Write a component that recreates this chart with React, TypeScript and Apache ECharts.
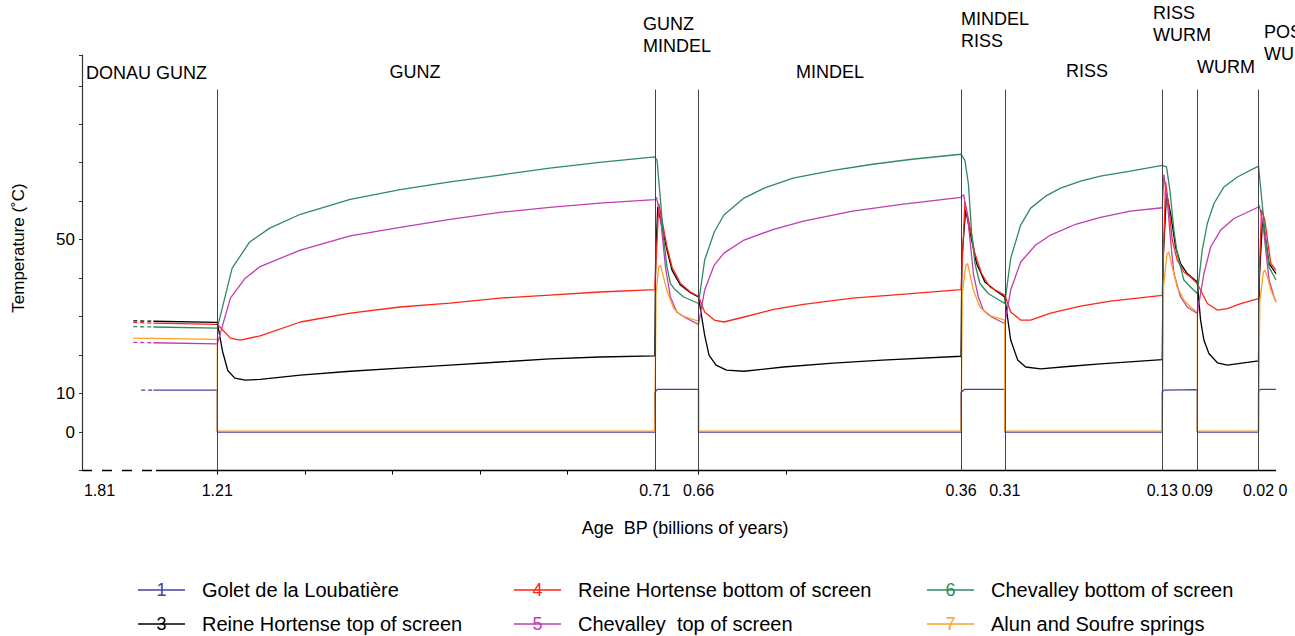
import React, { useEffect, useRef } from 'react';
import * as echarts from 'echarts';

const FONT = "'Liberation Sans', Arial, Helvetica, sans-serif";

// ---- axes ----
const X_LABEL_VALUES = [1.81, 1.21, 0.71, 0.66, 0.36, 0.31, 0.13, 0.09, 0.02, 0];
const X_TICK_VALUES = [1.21, 1.11, 1.01, 0.91, 0.81, 0.66, 0.56];
const BOUNDARIES = [1.21, 0.71, 0.66, 0.36, 0.31, 0.13, 0.09, 0.02];
const Y_LABEL_VALUES = [0, 10, 50];
const X_MIN = 0;
const X_MAX = 1.83;
const X_BREAK = { start: 1.31, end: 1.78, gap: 0.0046 };
const Y_MIN = -10;
const Y_MAX = 98;
const BOUNDARY_TOP = 89;
const AXIS_DASH_END = 1.28;

// ---- series (age in billions of years, temperature in °C) ----
const BLUE_PRE = [[1.297, 10.9], [1.283, 10.9]];
const BLUE = [
  [1.283, 10.9], [1.21, 10.9], [1.21, 0], [0.71, 0], [0.71, 10.3], [0.707, 11.1], [0.66, 11.1], [0.66, 0],
  [0.36, 0], [0.36, 10.3], [0.356, 11.1], [0.31, 11.1], [0.31, 0], [0.13, 0], [0.13, 10.4], [0.128, 10.9],
  [0.09, 11.0], [0.09, 0], [0.02, 0], [0.02, 10.4], [0.018, 11.1], [0, 11.1],
];

const BLACK_PRE = [[1.306, 28.9], [1.283, 28.8]];
const BLACK = [
  [1.283, 28.8], [1.21, 28.5], [1.204, 21], [1.198, 16], [1.19, 14], [1.178, 13.5], [1.161, 13.7], [1.115, 14.8],
  [1.058, 15.8], [1.001, 16.6], [0.944, 17.4], [0.887, 18.2], [0.83, 19], [0.773, 19.5], [0.71, 19.8],
  [0.709, 45], [0.7066, 58.5], [0.7017, 53.3], [0.696, 47.3], [0.6903, 42.1], [0.6806, 38.2], [0.6692, 36.2], [0.66, 35.1],
  [0.653, 25.2], [0.648, 20], [0.64, 17.4], [0.628, 16.1], [0.608, 15.8], [0.563, 16.9], [0.506, 17.9], [0.45, 18.7], [0.36, 19.7],
  [0.359, 45], [0.3547, 57.7], [0.3478, 49.9], [0.3422, 43.8], [0.3327, 39], [0.3214, 36.9], [0.31, 35.1],
  [0.3032, 23.9], [0.2952, 18.7], [0.2861, 16.9], [0.269, 16.4], [0.2348, 17.1], [0.2007, 17.7], [0.13, 18.8],
  [0.129, 45], [0.1251, 62], [0.1205, 56.8], [0.1148, 48.1], [0.1091, 43.8], [0.1014, 41.2], [0.09, 39],
  [0.0862, 29.1], [0.0824, 23.9], [0.0767, 20.4], [0.067, 18], [0.0556, 17.4], [0.02, 18.5],
  [0.019, 40], [0.0154, 55.1], [0.0117, 49.9], [0.0079, 43.8], [0, 41.2],
];

const RED_PRE = [[1.306, 28.5], [1.283, 28.3]];
const RED = [
  [1.283, 28.3], [1.21, 28.0], [1.195, 24.4], [1.184, 23.9], [1.161, 25], [1.115, 28.6], [1.058, 30.9], [1.001, 32.5],
  [0.944, 33.5], [0.887, 34.8], [0.83, 35.6], [0.773, 36.4], [0.71, 37.0],
  [0.7054, 59.4], [0.7017, 55], [0.696, 48.1], [0.6903, 42.9], [0.6806, 38.6], [0.6692, 36.4], [0.66, 35.3],
  [0.653, 31.2], [0.642, 29.1], [0.631, 28.6], [0.608, 29.9], [0.574, 31.9], [0.54, 33.2], [0.484, 34.8], [0.428, 35.8], [0.36, 37.0],
  [0.3555, 59.8], [0.3498, 53.3], [0.3441, 46.4], [0.3365, 41.2], [0.327, 37.7], [0.31, 35.6],
  [0.3032, 31.2], [0.2918, 29.1], [0.2804, 29.1], [0.2576, 30.9], [0.2234, 32.7], [0.1893, 34], [0.13, 35.5],
  [0.1262, 65], [0.1225, 58.5], [0.1186, 49.9], [0.1129, 44.7], [0.1053, 41.6], [0.0977, 40.3], [0.09, 38.6],
  [0.0785, 33.4], [0.067, 31.7], [0.0556, 32.1], [0.0403, 33.4], [0.02, 34.7],
  [0.0166, 57.7], [0.0128, 55.1], [0.0097, 49.9], [0.0059, 43.8], [0, 42.1],
];

const MAGENTA_PRE = [[1.306, 23.3], [1.283, 23.2]];
const MAGENTA = [
  [1.283, 23.2], [1.21, 22.9], [1.195, 34.8], [1.178, 40], [1.161, 43], [1.115, 47.3], [1.058, 51], [1.001, 53.2],
  [0.944, 55.3], [0.887, 57.1], [0.83, 58.4], [0.773, 59.5], [0.71, 60.4],
  [0.708, 61], [0.7035, 55.9], [0.6978, 42.9], [0.6921, 35.1], [0.6849, 31.2], [0.6734, 29.5], [0.66, 28],
  [0.653, 36.9], [0.642, 43.4], [0.631, 46.5], [0.608, 49.9], [0.574, 52.7], [0.54, 54.8], [0.484, 57.4], [0.428, 59.2], [0.36, 61],
  [0.357, 61.7], [0.3516, 54.2], [0.3459, 41.2], [0.3402, 35.1], [0.3345, 31.7], [0.3251, 29.9], [0.31, 28.2],
  [0.3032, 36.9], [0.2918, 44.2], [0.2747, 48.6], [0.2576, 51.2], [0.2291, 54], [0.2007, 55.8], [0.1665, 57.4], [0.13, 58.3],
  [0.1282, 66.9], [0.1243, 60.3], [0.1205, 49.9], [0.1167, 41.2], [0.1091, 35.1], [0.1014, 32.5], [0.09, 30.8],
  [0.0824, 41.2], [0.0747, 48.1], [0.0632, 52.5], [0.048, 55.5], [0.02, 58.5],
  [0.0193, 59], [0.0154, 55.1], [0.0117, 47.3], [0.0079, 39.5], [0.0022, 35.1], [0, 33.8],
];

const GREEN_PRE = [[1.306, 27.4], [1.283, 27.3]];
const GREEN = [
  [1.283, 27.3], [1.21, 27.0], [1.193, 42.6], [1.173, 49.4], [1.15, 53], [1.115, 56.6], [1.058, 60.5], [1.001, 63],
  [0.944, 65], [0.887, 66.8], [0.83, 68.6], [0.773, 70.1], [0.71, 71.5],
  [0.7074, 70.6], [0.7035, 60.3], [0.6997, 49.9], [0.696, 42.9], [0.6921, 38.6], [0.6864, 36.9], [0.6769, 35.1], [0.66, 33.4],
  [0.653, 44.7], [0.642, 52], [0.631, 56.4], [0.608, 60.8], [0.585, 63.4], [0.552, 66], [0.506, 68], [0.461, 69.6], [0.416, 70.9], [0.36, 72.2],
  [0.3555, 70.6], [0.3516, 64.6], [0.3478, 51.7], [0.3441, 43.8], [0.3384, 38.6], [0.3289, 36], [0.31, 33.4],
  [0.3032, 45.2], [0.2918, 53.8], [0.2804, 58.2], [0.2633, 61.3], [0.2462, 63.4], [0.2234, 65.2], [0.2007, 66.5], [0.1665, 67.8], [0.13, 69.3],
  [0.1251, 68.9], [0.1213, 62.9], [0.1167, 52.5], [0.1129, 46.4], [0.1053, 39.5], [0.0977, 37.7], [0.09, 36],
  [0.0843, 47.3], [0.0785, 54.2], [0.0709, 59.4], [0.0595, 63.7], [0.0441, 66.3], [0.02, 69.1],
  [0.0154, 58.5], [0.0117, 49.9], [0.0079, 42.9], [0.004, 41.2], [0, 39.5],
];

const ORANGE = [
  [1.306, 24.4], [1.21, 24.1], [1.21, 0.2], [0.71, 0.2],
  [0.7085, 36], [0.7055, 42.8], [0.7035, 43.4], [0.6963, 36.9], [0.6883, 32.1], [0.6806, 30.4], [0.6692, 29.5], [0.66, 28.8], [0.66, 0.2],
  [0.36, 0.2], [0.3585, 36], [0.3545, 43.3], [0.3524, 43.8], [0.3459, 36.9], [0.3384, 32.5], [0.3289, 30.4], [0.31, 29.1], [0.31, 0.2],
  [0.13, 0.2], [0.1285, 38], [0.1245, 46.4], [0.1225, 46.8], [0.1186, 42.9], [0.1129, 37.7], [0.1053, 34.3], [0.0977, 32.5], [0.09, 31.2], [0.09, 0.2],
  [0.02, 0.2], [0.0185, 34], [0.0145, 41.5], [0.0128, 42.1], [0.0097, 40.3], [0.0059, 36.9], [0, 33.8],
];

const LEGEND_ITEMS = [
  { num: '1', name: 'Golet de la Loubatière', color: '#43439f', pre: BLUE_PRE, data: BLUE },
  { num: '3', name: 'Reine Hortense top of screen', color: '#000000', pre: BLACK_PRE, data: BLACK },
  { num: '4', name: 'Reine Hortense bottom of screen', color: '#ff2418', pre: RED_PRE, data: RED },
  { num: '5', name: 'Chevalley  top of screen', color: '#c03cb0', pre: MAGENTA_PRE, data: MAGENTA },
  { num: '6', name: 'Chevalley bottom of screen', color: '#2f8a5c', pre: GREEN_PRE, data: GREEN },
  { num: '7', name: 'Alun and Soufre springs', color: '#ffa020', pre: null, data: ORANGE },
];

const PERIOD_LABELS = [
  { text: 'DONAU GUNZ', align: 'left' },
  { text: 'GUNZ', align: 'center' },
  { text: 'GUNZ\nMINDEL', align: 'left' },
  { text: 'MINDEL', align: 'center' },
  { text: 'MINDEL\nRISS', align: 'left' },
  { text: 'RISS', align: 'center' },
  { text: 'RISS\nWURM', align: 'left' },
  { text: 'WURM', align: 'center' },
  { text: 'POST\nWURM', align: 'left' },
];
// layout (pixel anchors for the text annotations)
const PERIOD_POS = [
  [86, 73], [415, 72], [643, 35], [830, 72], [961, 29.5], [1087, 70.5], [1153, 23.5], [1226, 66.5], [1264, 42.5],
];
const LEGEND_COL_X = [138, 514, 927];
const LEGEND_ROW_Y = [590, 624];
const LEGEND_ICON_W = 47;
const LEGEND_TEXT_DX = 64;

function buildOption() {
  const series: any[] = [];
  LEGEND_ITEMS.forEach((it, i) => {
    if (it.pre) {
      series.push({
        type: 'line', name: it.name + ' (pre)', data: it.pre, symbol: 'none', silent: true,
        lineStyle: { color: it.color, width: 1.3, type: [4, 3] }, z: 3,
      });
    }
    const s: any = {
      type: 'line', name: it.name, data: it.data, symbol: 'none', silent: true,
      lineStyle: { color: it.color, width: 1.3 }, z: 3 + i * 0.1,
    };
    if (i === 0) {
      s.markLine = {
        silent: true, symbol: ['none', 'none'], label: { show: false },
        lineStyle: { color: '#444', width: 1, type: 'solid' },
        data: BOUNDARIES.map((a) => [{ coord: [a, Y_MIN] }, { coord: [a, BOUNDARY_TOP] }]),
      };
    }
    series.push(s);
  });
  // x axis line: dashed across the break, solid afterwards
  series.push({
    type: 'line', data: [[X_MAX, Y_MIN], [AXIS_DASH_END, Y_MIN]], symbol: 'none', silent: true, clip: false,
    lineStyle: { color: '#000', width: 1.3, type: [10, 10] }, z: 5,
  });
  series.push({
    type: 'line', data: [[AXIS_DASH_END, Y_MIN], [X_MIN, Y_MIN]], symbol: 'none', silent: true, clip: false,
    lineStyle: { color: '#000', width: 1.3 }, z: 5,
  });

  const graphics: any[] = [];
  PERIOD_LABELS.forEach((p, i) => {
    graphics.push({
      type: 'text', x: PERIOD_POS[i][0], y: PERIOD_POS[i][1], silent: true,
      style: {
        text: p.text, fill: '#000', fontSize: 18, fontFamily: FONT, lineHeight: 22,
        textAlign: p.align, align: p.align, textVerticalAlign: 'middle', verticalAlign: 'middle',
      },
    });
  });
  graphics.push({
    type: 'text', x: 18, y: 248, rotation: Math.PI / 2, silent: true,
    style: {
      text: 'Temperature (˚C)', fill: '#000', fontSize: 17, fontFamily: FONT,
      textAlign: 'center', align: 'center', textVerticalAlign: 'middle', verticalAlign: 'middle',
    },
  });
  LEGEND_ITEMS.forEach((it, i) => {
    const col = Math.floor(i / 2);
    const row = i % 2;
    const x0 = LEGEND_COL_X[col];
    const y0 = LEGEND_ROW_Y[row];
    graphics.push({
      type: 'line', silent: true,
      shape: { x1: x0, y1: y0, x2: x0 + LEGEND_ICON_W, y2: y0 },
      style: { stroke: it.color, lineWidth: 1.3 },
    });
    graphics.push({
      type: 'text', x: x0 + LEGEND_ICON_W / 2, y: y0, silent: true,
      style: {
        text: it.num, fill: it.color, fontSize: 18, fontFamily: FONT,
        textAlign: 'center', align: 'center', textVerticalAlign: 'middle', verticalAlign: 'middle',
      },
    });
    graphics.push({
      type: 'text', x: x0 + LEGEND_TEXT_DX, y: y0, silent: true,
      style: {
        text: it.name, fill: '#000', fontSize: 20, fontFamily: FONT,
        textAlign: 'left', align: 'left', textVerticalAlign: 'middle', verticalAlign: 'middle',
      },
    });
  });

  return {
    animation: false,
    backgroundColor: '#fff',
    grid: { left: 82, right: 19, top: 55, bottom: 165.5 },
    xAxis: {
      type: 'value', inverse: true, min: X_MIN, max: X_MAX,
      breaks: [X_BREAK],
      breakArea: { show: false, itemStyle: { opacity: 0 }, zigzagAmplitude: 0 },
      axisLine: { show: false, onZero: false },
      axisTick: { show: true, customValues: X_TICK_VALUES, length: 4, lineStyle: { color: '#000', width: 1 } },
      axisLabel: {
        customValues: X_LABEL_VALUES, margin: 12, fontSize: 16, color: '#000', fontFamily: FONT,
        hideOverlap: false, showMinLabel: true, showMaxLabel: true,
        formatter: (v: number) => (v === 0 ? '{z|0}' : String(v)),
        rich: { z: { fontSize: 16, fontFamily: FONT, color: '#000', padding: [0, 0, 0, 14] } },
      },
      splitLine: { show: false },
      name: 'Age  BP (billions of years)', nameLocation: 'middle', nameGap: 48,
      nameTextStyle: { fontSize: 18, color: '#000', fontFamily: FONT, padding: [0, 0, 0, 12] },
    },
    yAxis: {
      type: 'value', min: Y_MIN, max: Y_MAX, interval: 10,
      axisLine: { show: true, onZero: false, lineStyle: { color: '#333', width: 1.2 } },
      axisTick: { show: true, length: 3, lineStyle: { color: '#333' } },
      axisLabel: {
        margin: 7, fontSize: 17, color: '#000', fontFamily: FONT,
        formatter: (v: number) => (Y_LABEL_VALUES.includes(v) ? String(v) : ''),
      },
      splitLine: { show: false },
    },
    series,
    graphic: graphics,
  };
}

export default function App() {
  const ref = useRef<HTMLDivElement>(null);
  useEffect(() => {
    const chart = echarts.init(ref.current!, null, { renderer: 'svg' });
    chart.setOption(buildOption() as any);
    return () => chart.dispose();
  }, []);
  return <div ref={ref} style={{ position: 'fixed', left: 0, top: 0, width: 1295, height: 636 }} />;
}
